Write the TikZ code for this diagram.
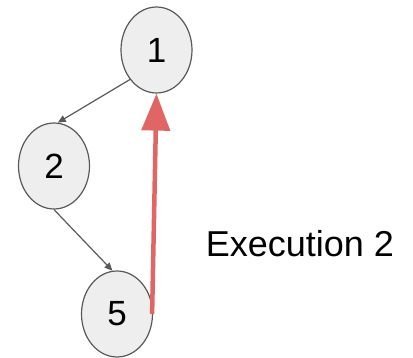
\documentclass[tikz,border=0pt]{standalone}
\usepackage{fontspec}
\setmainfont{Liberation Sans}
\usetikzlibrary{arrows.meta,shapes.geometric}
\definecolor{nodefill}{HTML}{EEEEEE}
\definecolor{edgegray}{HTML}{595959}
\definecolor{redarrow}{HTML}{E06666}
\begin{document}
\begin{tikzpicture}[x=1pt,y=-1pt,
  vert/.style={ellipse,draw=edgegray,line width=1.2pt,fill=nodefill,minimum width=71pt,minimum height=86pt,inner sep=0pt,font=\fontsize{35}{35}\selectfont},
  graylink/.style={draw=edgegray,line width=1.2pt,-{Triangle[length=8pt,width=7pt]}},
  redlink/.style={draw=redarrow,line width=4.5pt,-{Triangle[length=37pt,width=28pt]}},
  lbl/.style={font=\fontsize{36}{36}\selectfont,inner sep=0pt}]
\useasboundingbox (0,0) rectangle (413,358);
\node[vert] (n1) at (156.5,50) {1};
\node[vert] (n2) at (54,166) {2};
\node[vert] (n5) at (117,314) {5};
\node[lbl] (t) at (300,244) {Execution 2};
\draw[graylink] (n1.228) -- (n2.85);
\draw[graylink] (n2.south) -- (n5.96);
\draw[redlink] ([xshift=-1pt]n5.east) -- (n1.south);
\end{tikzpicture}
\end{document}
